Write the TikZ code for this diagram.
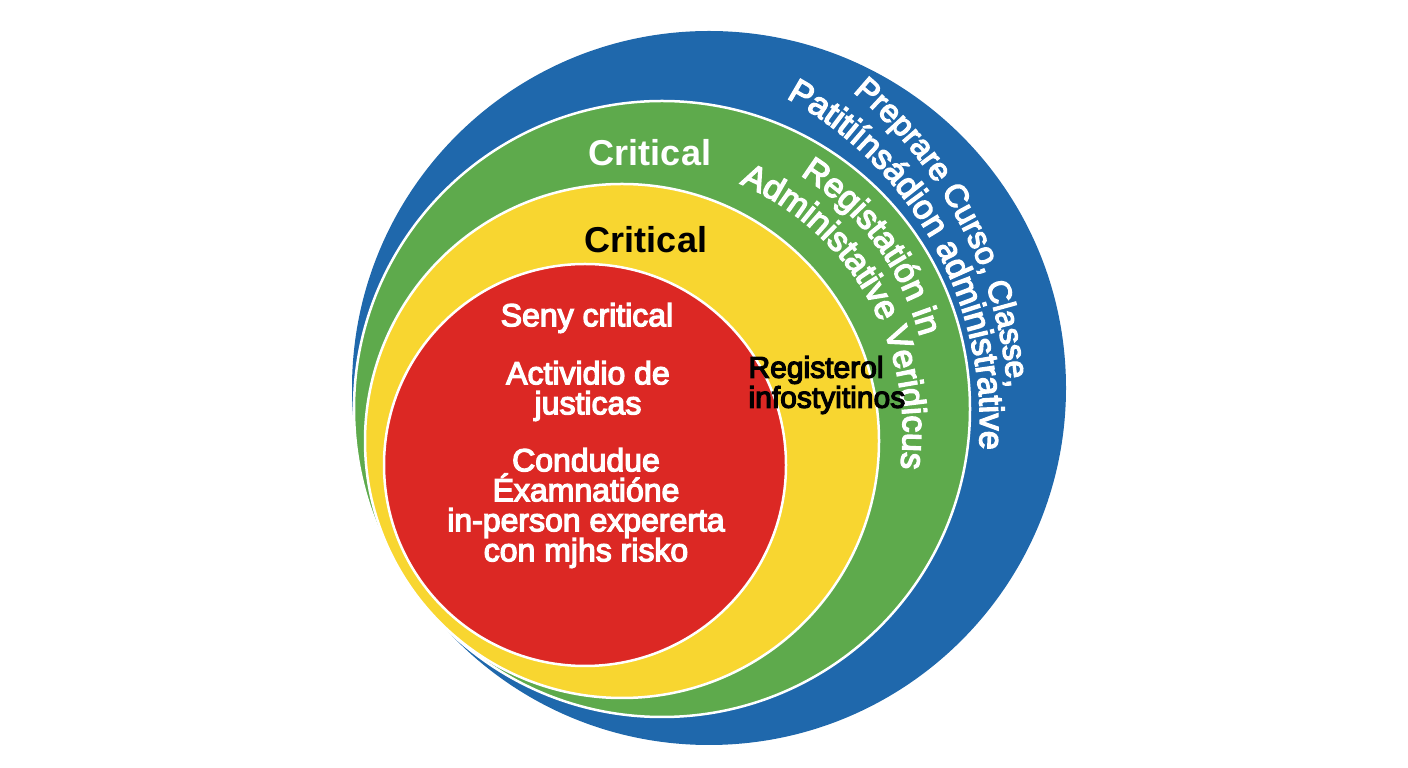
\documentclass[tikz,border=0pt]{standalone}
\usepackage{fontspec}
\setmainfont{Liberation Sans}
\newfontfamily\medfont[FakeBold=4]{Liberation Sans}
\usetikzlibrary{decorations.text}

\definecolor{ringblue}{RGB}{31,104,172}
\definecolor{ringgreen}{RGB}{94,170,76}
\definecolor{ringyellow}{RGB}{248,214,48}
\definecolor{ringred}{RGB}{220,40,36}

\tikzset{
    ring/.style={draw=white, line width=2.5pt},
    critlabel/.style={font=\fontsize{36}{40}\selectfont\bfseries},
    redlabel/.style={text=white, align=center, font=\medfont\fontsize{32}{30}\selectfont},
    arclabel/.style={decorate, decoration={text along path, text align=center, text color=white, text={#1}}}
}

\begin{document}
\begin{tikzpicture}[x=1pt,y=1pt]
        \useasboundingbox (0,0) rectangle (1408,768);

        \fill[ringblue] (709,380) circle (357);
        \filldraw[ring, fill=ringgreen] (662,359) circle (308);
        \filldraw[ring, fill=ringyellow] (622,327) circle (257);
        \filldraw[ring, fill=ringred] (585,303) circle (201);

        \path[arclabel={|\medfont\fontsize{32}{32}\selectfont|Preprare Curso, Classe,}] (580,345) ++(62.6:429) arc[start angle=62.6, end angle=-7.4, radius=429];
        \path[arclabel={|\medfont\fontsize{34}{34}\selectfont|Patitiínsádion administrative}] (609,344) ++(73.8:371) arc[start angle=73.8, end angle=-16.2, radius=371];
        \path[arclabel={|\medfont\fontsize{34}{34}\selectfont|Registatión in}] (656,361) ++(71.5:273) arc[start angle=71.5, end angle=1.5, radius=273];
        \path[arclabel={|\medfont\fontsize{34}{34}\selectfont|Administative Veridicus}] (634,337) ++(79.45:269) arc[start angle=79.45, end angle=-20.55, radius=269];

        \node[critlabel, text=white] (critgreen) at (650,615) {Critical};
        \node[critlabel] (crityellow) at (646,528) {Critical};
        \node[redlabel] (seny) at (587,450) {Seny critical};
        \node[redlabel] (activ) at (588,377) {Actividio de\\justicas};
        \node[redlabel] (exam) at (586,260) {Condudue\\Éxamnatióne\\in-person expererta\\con mjhs risko};
        \node[anchor=west, align=left, font=\medfont\fontsize{30}{30}\selectfont] (regis) at (745,383) {Registerol\\infostyitinos};

    \end{tikzpicture}
\end{document}
